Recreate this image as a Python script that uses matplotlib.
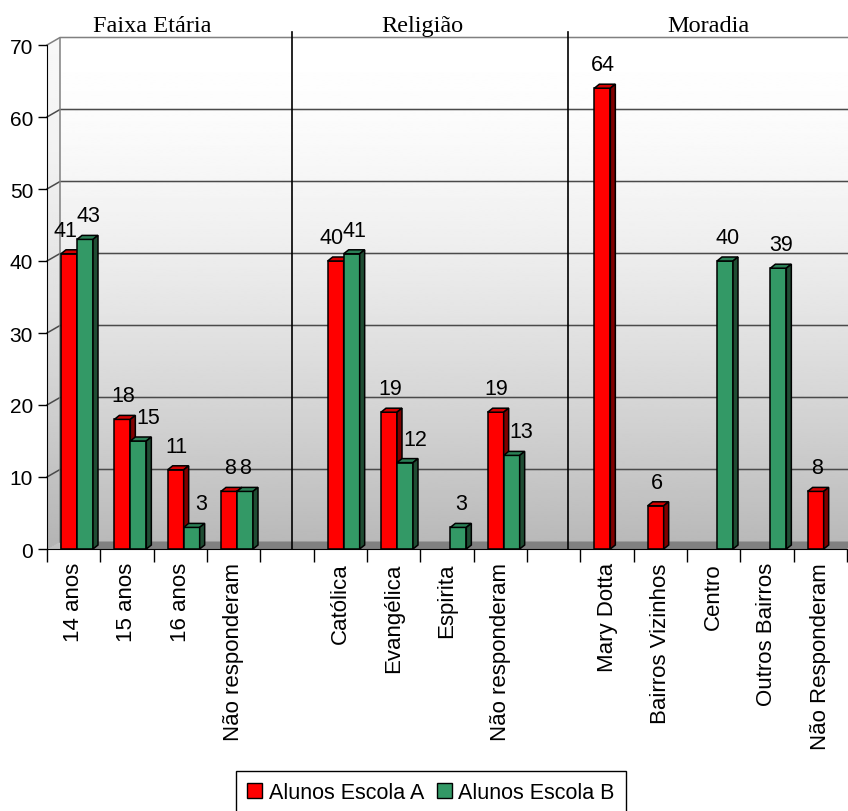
import numpy as np
import matplotlib
matplotlib.use("Agg")
import matplotlib.pyplot as plt
from matplotlib.patches import Polygon, Patch

plt.rcParams['font.family'] = ['Liberation Sans', 'DejaVu Sans']

# dados do gráfico
categorias = ['14 anos', '15 anos', '16 anos', 'Não responderam', '',
              'Católica', 'Evangélica', 'Espirita', 'Não responderam', '',
              'Mary Dotta', 'Bairros Vizinhos', 'Centro', 'Outros Bairros', 'Não Responderam']
escola_a = [41, 18, 11, 8, 0, 40, 19, 0, 19, 0, 64, 6, 0, 0, 8]
escola_b = [43, 15, 3, 8, 0, 41, 12, 3, 13, 0, 0, 0, 40, 39, 0]
grupos = ['Faixa Etária', 'Religião', 'Moradia']
grupo_centro = [1.98, 7.03, 12.4]
separadores = [4.59, 9.76]
series = ['Alunos Escola A', 'Alunos Escola B']

W, H = 848, 812
fig = plt.figure(figsize=(W / 100, H / 100), dpi=100)
fig.patch.set_facecolor('white')

# eixo frontal: x 0..15 (categorias), y 0..70
x0_px, x1_px, y0_px, y1_px = 47, 847, 550, 46
ax = fig.add_axes([x0_px / W, 1 - y0_px / H, (x1_px - x0_px) / W, (y0_px - y1_px) / H])
n = len(categorias)
ax.set_xlim(0, n)
ax.set_ylim(0, 70)
ax.patch.set_visible(False)

ux = n / (x1_px - x0_px)      # unidades por pixel
uy = 70 / (y0_px - y1_px)
DX, DY = 13 * ux, 7.5 * uy    # profundidade da parede
BDX, BDY = 5 * ux, 4 * uy     # profundidade das barras

# gradiente da parede de fundo
t = np.linspace(0, 1, 256)
grad = (255 - 70 * t ** 1.6).reshape(-1, 1)
im = ax.imshow(grad, cmap='gray', vmin=0, vmax=255, aspect='auto',
               extent=[DX, n + DX, DY, 70 + DY], interpolation='bilinear',
               zorder=0, clip_on=False)

# parede lateral
lateral = Polygon([(0, 0), (DX, DY), (DX, 70 + DY), (0, 70)], closed=True,
                  transform=ax.transData, facecolor='none', edgecolor='none')
ax.add_patch(lateral)
im2 = ax.imshow(grad * 0.97, cmap='gray', vmin=0, vmax=255, aspect='auto',
                extent=[0, DX, 0, 70 + DY], interpolation='bilinear', zorder=0)
im2.set_clip_path(lateral)
im2.set_clip_box(fig.bbox)

# piso
ax.add_patch(Polygon([(0, 0), (n, 0), (n + DX, DY), (DX, DY)], closed=True,
                     facecolor='#808080', edgecolor='none', zorder=0.5, clip_on=False))
ax.add_patch(Polygon([(0, 0), (DX, DY), (DX, 0)], closed=True,
                     facecolor='#c0c0c0', edgecolor='none', zorder=0.6, clip_on=False))

# linhas de grade
for v in range(10, 71, 10):
    cor = '#808080' if v == 70 else '#4a4a4a'
    ax.plot([0, DX, n + DX], [v, v + DY, v + DY], color=cor, lw=1.1,
            zorder=1, clip_on=False)
ax.plot([DX, DX], [DY, 70 + DY], color='#808080', lw=1.1, zorder=1, clip_on=False)

# separadores entre grupos
for s in separadores:
    ax.plot([s, s], [0, 71.8], color='black', lw=1.2, zorder=1.5, clip_on=False)

for g, xc in zip(grupos, grupo_centro):
    ax.text(xc, 71.95, g, ha='center', va='baseline', fontsize=17.5,
            family='Liberation Serif')

# barras 3D
cores = [('#ff0000', '#d40000', '#800000'), ('#339966', '#2b8056', '#1f4d33')]
larg = 0.3
idx = np.arange(n)
va_ = np.array(escola_a)
vb_ = np.array(escola_b)
for k, vals in enumerate([va_, vb_]):
    outro = vb_ if k == 0 else va_
    mask = vals > 0
    xs = idx[mask] + 0.2625 + k * larg
    frente, topo, lado = cores[k]
    ax.bar(xs, vals[mask], width=larg, align='edge', color=frente,
           edgecolor='black', lw=1.1, zorder=3 + k)
    for x, v, o in zip(xs, vals[mask], outro[mask]):
        ax.add_patch(Polygon([(x, v), (x + larg, v), (x + larg + BDX, v + BDY), (x + BDX, v + BDY)],
                             closed=True, facecolor=topo, edgecolor='black', lw=1.1,
                             zorder=3 + k, clip_on=False))
        ax.add_patch(Polygon([(x + larg, 0), (x + larg + BDX, BDY), (x + larg + BDX, v + BDY), (x + larg, v)],
                             closed=True, facecolor=lado, edgecolor='black', lw=1.1,
                             zorder=3 + k, clip_on=False))
        # deslocamento dos rótulos para não colidirem
        if k == 0:
            dx = -4 if o > v else 1
        else:
            dx = 10 if o > v else (0 if o == v else 3)
        ax.annotate(str(v), (x + larg / 2, v), xytext=(dx, 13), textcoords='offset pixels',
                    ha='center', va='bottom', fontsize=15.5, zorder=6)

# eixos
for lado_sp in ['top', 'right']:
    ax.spines[lado_sp].set_visible(False)
ax.spines['left'].set_color('black')
ax.spines['bottom'].set_color('black')
ax.spines['left'].set_zorder(5)
ax.spines['bottom'].set_zorder(5)
ax.set_yticks(range(0, 71, 10))
ax.tick_params(axis='y', length=6.5, width=1, pad=3.5, labelsize=15)
ax.set_xticks(range(0, n + 1))
ax.set_xticklabels([])
ax.set_xticks(idx + 0.5, minor=True)
ax.set_xticklabels(categorias, minor=True, rotation=90, fontsize=16, va='top', ha='center')
ax.tick_params(axis='x', which='major', length=9.4, width=1)
ax.tick_params(axis='x', which='minor', length=0, pad=9.5)

# legenda
handles = [Patch(facecolor=cores[0][0], edgecolor='black'),
           Patch(facecolor=cores[1][0], edgecolor='black')]
leg = fig.legend(handles, series, loc='upper center', bbox_to_anchor=(431 / W, 1 - 772 / H),
                 ncol=2, fontsize=15.5, frameon=True, fancybox=False, framealpha=1,
                 edgecolor='black', handlelength=0.7, handleheight=0.7,
                 handletextpad=0.3, columnspacing=0.6, borderpad=0.5, borderaxespad=0)
leg.get_frame().set_linewidth(1)

fig.savefig('out.png', dpi=100)
